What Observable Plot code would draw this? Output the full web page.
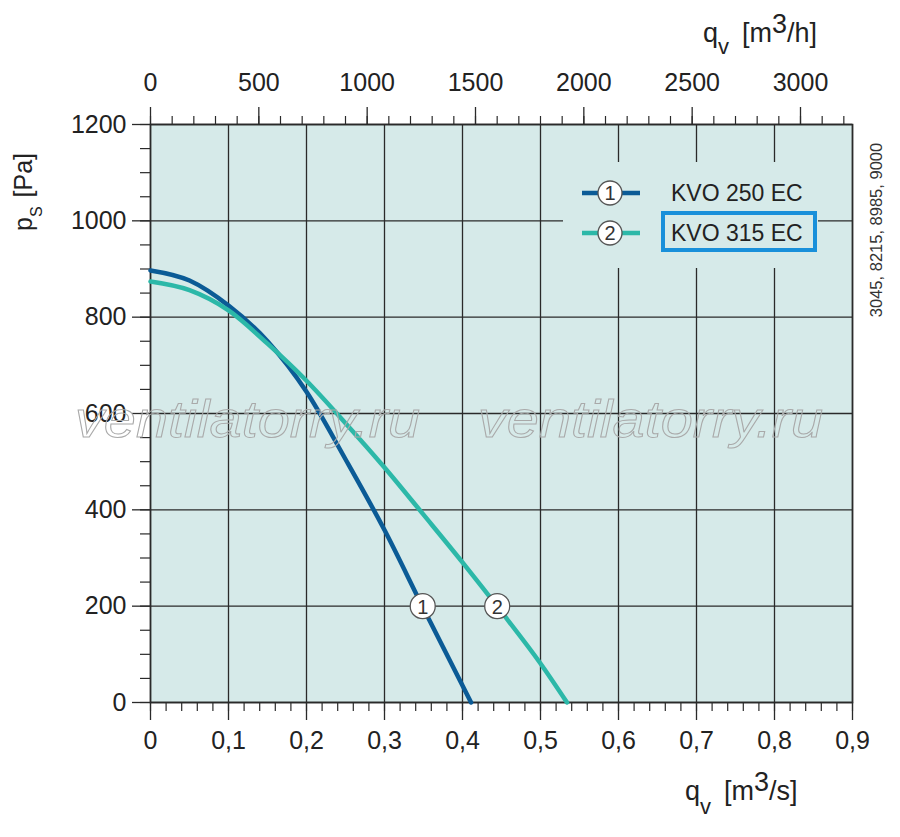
<!DOCTYPE html>
<html>
<head>
<meta charset="utf-8">
<script src="https://cdn.jsdelivr.net/npm/d3@7"></script>
<script src="https://cdn.jsdelivr.net/npm/@observablehq/plot@0.6"></script>
<style>
  html, body { margin: 0; padding: 0; background: #ffffff; }
  #chart { width: 900px; height: 837px; }
</style>
</head>
<body>
<div id="chart"></div>
<script>
// ---------- data ----------
const seriesNames  = ["KVO 250 EC", "KVO 315 EC"];
const seriesKeys   = ["1", "2"];
const seriesColors = ["#0b5b96", "#2cb8a8"];

// KVO 250 EC: q [m3/s], ps [Pa]
const q250 = [0, 0.05, 0.10, 0.15, 0.20, 0.25, 0.30, 0.35, 0.411];
const p250 = [897, 876, 824, 750, 645, 505, 358, 195, 0];

// KVO 315 EC
const q315 = [0, 0.05, 0.10, 0.15, 0.20, 0.25, 0.30, 0.35, 0.40, 0.45, 0.50, 0.534];
const p315 = [874, 856, 814, 745, 668, 580, 488, 390, 291, 188, 81, 0];

// curve number markers
const markerQ = [0.349, 0.4445];
const markerP = [200, 200];

// ticks
const xTicks   = [0, 0.1, 0.2, 0.3, 0.4, 0.5, 0.6, 0.7, 0.8, 0.9];
const yTicks   = [0, 200, 400, 600, 800, 1000, 1200];
const topTicks = [0, 500, 1000, 1500, 2000, 2500, 3000];           // m3/h
const xMinor   = d3.range(0, 46).map(i => i * 0.02);
const yMinor   = d3.range(0, 25).map(i => i * 50);
const topMinor = d3.range(0, 33).map(i => i * 100);                // m3/h

const ink = "#2a2a2a";
const bg  = "#d6eae9";
const FONT = "'Liberation Sans', Arial, Helvetica, sans-serif";

// ---------- tables ----------
const curves = [
  ...q250.map((q, i) => ({q, p: p250[i], s: seriesNames[0]})),
  ...q315.map((q, i) => ({q, p: p315[i], s: seriesNames[1]}))
];
const markers = markerQ.map((q, i) => ({q, p: markerP[i], k: seriesKeys[i]}));
const commaFmt = d => String(+d.toFixed(1)).replace(".", ",");

const chart = Plot.plot({
  width: 900,
  height: 837,
  marginLeft: 150,
  marginRight: 48,
  marginTop: 124,
  marginBottom: 135,
  style: {fontFamily: FONT, background: "#ffffff", color: ink, overflow: "visible"},
  x: {domain: [0, 0.9], axis: null, label: null},
  y: {domain: [0, 1200], axis: null, label: null},
  color: {domain: seriesNames, range: seriesColors},
  marks: [
    Plot.frame({fill: bg, stroke: null}),
    Plot.gridX(xTicks, {stroke: ink, strokeOpacity: 1, strokeWidth: 1.3}),
    Plot.gridY(yTicks, {stroke: ink, strokeOpacity: 1, strokeWidth: 1.3}),
    Plot.frame({stroke: ink, strokeWidth: 1.6}),
    // bottom axis (m3/s)
    Plot.axisX(xMinor, {anchor: "bottom", tickSize: 9, tickFormat: () => "", stroke: ink, strokeWidth: 1.2, label: null}),
    Plot.axisX(xTicks, {anchor: "bottom", tickSize: 18, tickPadding: 11, tickFormat: commaFmt,
      fontSize: 25, stroke: ink, strokeWidth: 1.3, color: "#222", label: null}),
    // top axis (m3/h)
    Plot.axisX(topMinor.map(h => h / 3600), {anchor: "top", tickSize: 9, tickFormat: () => "", stroke: ink, strokeWidth: 1.2, label: null}),
    Plot.axisX(topTicks.map(h => h / 3600), {anchor: "top", tickSize: 18, tickPadding: 16,
      tickFormat: d => String(Math.round(d * 3600)), fontSize: 25, stroke: ink, strokeWidth: 1.3, color: "#222", label: null}),
    // left axis
    Plot.axisY(yMinor, {anchor: "left", tickSize: 10, tickFormat: () => "", stroke: ink, strokeWidth: 1.2, label: null}),
    Plot.axisY(yTicks, {anchor: "left", tickSize: 18, tickPadding: 6, fontSize: 25, tickFormat: d => String(d),
      stroke: ink, strokeWidth: 1.3, color: "#222", label: null}),
    // curves
    Plot.line(curves, {x: "q", y: "p", z: "s", stroke: "s", strokeWidth: 4.5, curve: "monotone-x"}),
    // curve numbers
    Plot.dot(markers, {x: "q", y: "p", r: 12.5, fill: "white", stroke: "#555", strokeWidth: 1.3}),
    Plot.text(markers, {x: "q", y: "p", text: "k", fontSize: 20, fill: "#333", dy: 1})
  ]
});

document.getElementById("chart").appendChild(chart);

// ---------- extra annotations drawn into the same SVG ----------
const svg = d3.select(chart);
const textColor = "#222";

// watermark
const wm = svg.append("g").attr("pointer-events", "none");
[[75, 437], [478, 437]].forEach(([x, y]) => {
  wm.append("text")
    .attr("x", x).attr("y", y)
    .attr("text-anchor", "start")
    .attr("font-family", FONT).attr("font-style", "italic")
    .attr("font-size", 52)
    .attr("textLength", 345).attr("lengthAdjust", "spacingAndGlyphs")
    .attr("fill", "none").attr("stroke", "#a9a9a9").attr("stroke-width", 1)
    .text("ventilatorry.ru");
});

// legend
const lg = svg.append("g");
lg.append("rect").attr("x", 563).attr("y", 162).attr("width", 255).attr("height", 106).attr("fill", bg);
seriesNames.forEach((name, i) => {
  const y = 193 + i * 40;
  lg.append("line").attr("x1", 582).attr("x2", 640).attr("y1", y).attr("y2", y)
    .attr("stroke", seriesColors[i]).attr("stroke-width", 4.5);
  lg.append("circle").attr("cx", 610).attr("cy", y).attr("r", 12)
    .attr("fill", "white").attr("stroke", "#555").attr("stroke-width", 1.3);
  lg.append("text").attr("x", 610).attr("y", y + 7).attr("text-anchor", "middle")
    .attr("font-family", FONT).attr("font-size", 20).attr("fill", "#333").text(seriesKeys[i]);
  lg.append("text").attr("x", 671).attr("y", y + 8).attr("text-anchor", "start")
    .attr("font-family", FONT).attr("font-size", 23).attr("fill", textColor).text(name);
});
lg.append("rect").attr("x", 663).attr("y", 213).attr("width", 152).attr("height", 37)
  .attr("fill", "none").attr("stroke", "#1990da").attr("stroke-width", 4);

// axis titles
function title(x, y, parts, rotate, fs) {
  const t = svg.append("text")
    .attr("text-anchor", "start")
    .attr("font-family", FONT).attr("font-size", fs).attr("fill", textColor)
    .attr("transform", rotate ? `translate(${x},${y}) rotate(-90)` : `translate(${x},${y})`);
  parts.forEach(p => {
    const s = t.append("tspan").text(p.t);
    if (p.dy) s.attr("dy", p.dy);
    if (p.dx) s.attr("dx", p.dx);
    if (p.fs) s.attr("font-size", p.fs);
  });
}
// bottom: q_v [m3/s]
title(685, 800, [{t: "q"}, {t: "v", dy: 14, fs: 22}, {t: "[m", dy: -14, dx: 13}, {t: "3", dy: -9}, {t: "/s]", dy: 9}], false, 27);
// top: q_v [m3/h]
title(703, 42, [{t: "q"}, {t: "v", dy: 12, fs: 22}, {t: "[m", dy: -12, dx: 13}, {t: "3", dy: -9}, {t: "/h]", dy: 9}], false, 27);
// left: p_s [Pa]
title(32, 231, [{t: "p"}, {t: "S", dy: 10, fs: 16}, {t: "[Pa]", dy: -10, dx: 9}], true, 25);

// right side reference numbers
svg.append("text")
  .attr("transform", "translate(882,230) rotate(-90)")
  .attr("text-anchor", "middle")
  .attr("font-family", FONT).attr("font-size", 16.5).attr("fill", "#333")
  .text("3045, 8215, 8985, 9000");
</script>
</body>
</html>
